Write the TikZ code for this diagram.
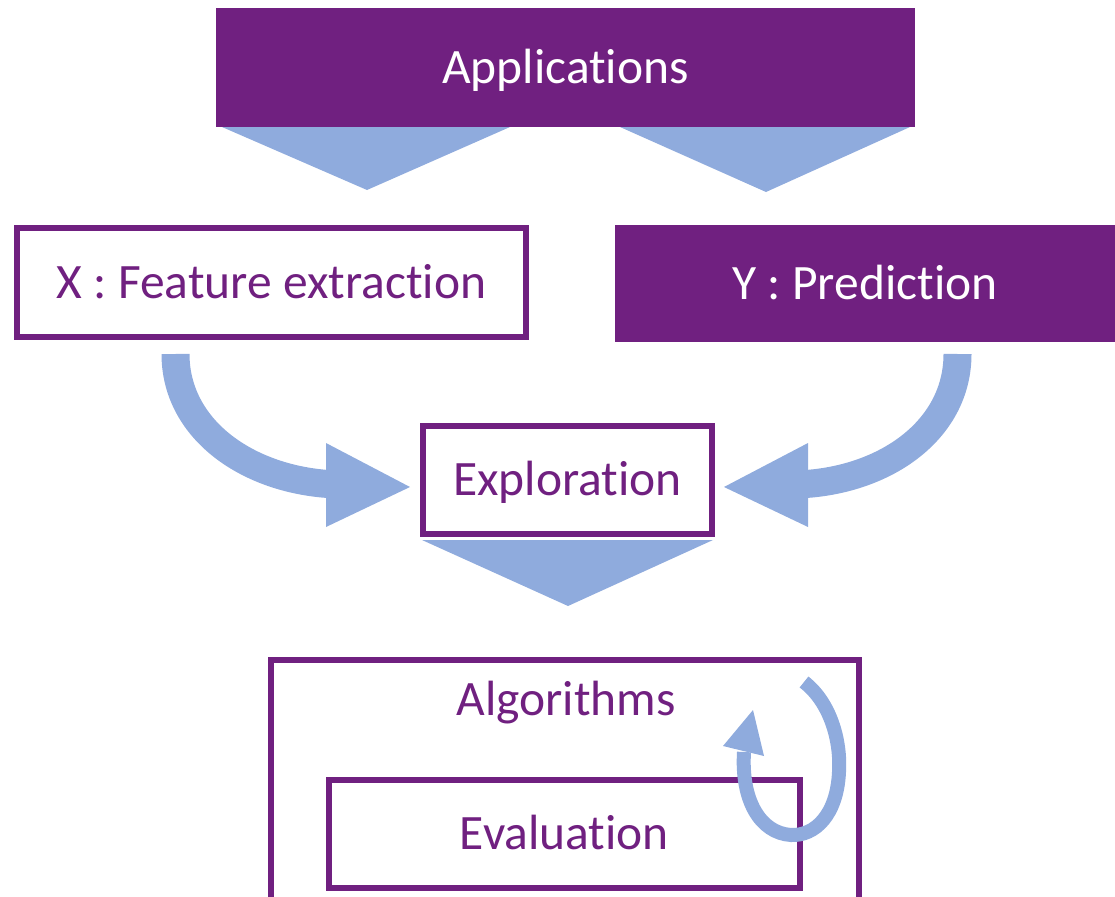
\documentclass[tikz,border=0pt]{standalone}
\usepackage{fontspec}
\setmainfont[Ligatures={NoCommon}]{Carlito}
\newcommand\nolig{\kern0pt{}}
\definecolor{purp}{RGB}{112,32,128}
\definecolor{lblue}{RGB}{143,171,221}
\begin{document}
\begin{tikzpicture}[x=1pt,y=-1pt,
  lbl/.style={inner sep=0pt, font=\fontsize{49.5}{58}\selectfont, text height=31.8pt, text depth=0pt},
  obox/.style={lbl, draw=purp, line width=6pt, fill=white, text=purp},
  fbox/.style={lbl, fill=purp, text=white},
  chev/.style={fill=lblue},
  shaft/.style={draw=lblue, line width=28pt},
  thin shaft/.style={draw=lblue, line width=14pt},
]
\useasboundingbox (0,0) rectangle (1115,896);

% top box and chevrons
\fill[chev] (222,127) -- (510,127) -- (367,190) -- cycle;
\fill[chev] (620,127) -- (910,127) -- (766,192) -- cycle;
\node[fbox, minimum width=699pt, minimum height=119pt] (app) at (565.5,67.5) {Applicat\nolig ions};

\node[obox, minimum width=509pt, minimum height=109pt] (x) at (271.5,282.5) {X : Feature extract\nolig ion};
\node[fbox, minimum width=500pt, minimum height=117pt] (y) at (865,283.5) {Y : Predict\nolig ion};

\node[obox, minimum width=289pt, minimum height=108pt] (exp) at (567.5,480) {Explorat\nolig ion};
\fill[chev] (422,540) -- (713,540) -- (568,606) -- cycle;

% curved arrows
\coordinate (ls) at (175.5,354);
\coordinate (le) at (328,484);
\draw[shaft] (ls) .. controls (175.5,428) and (245,478) .. (le);
\fill[chev] (326,443) -- (410,487) -- (326,527) -- cycle;

\coordinate (rs) at (957.5,354);
\coordinate (re) at (806,484);
\draw[shaft] (rs) .. controls (957.5,428) and (889,478) .. (re);
\fill[chev] (808,443) -- (724,487) -- (808,527) -- cycle;

% bottom boxes
\node[draw=purp, line width=6pt, minimum width=588pt, minimum height=241pt, inner sep=0pt] (alg) at (565,780.5) {};
\node[lbl, text=purp] (algt) at (566,700) {Algorithms};
\node[obox, minimum width=471pt, minimum height=108pt] (ev) at (564.5,834) {Evaluat\nolig ion};

% loop arrow
\coordinate (lt) at (804,682);
\coordinate (lh) at (744,752);
\draw[thin shaft] (lt) .. controls (830,702) and (841,740) .. (839,772)
  .. controls (837,815) and (815,836) .. (791,835)
  .. controls (760,833) and (741,800) .. (lh);
\fill[chev] (723,746) -- (753,710) -- (764,756) -- cycle;
\end{tikzpicture}
\end{document}
